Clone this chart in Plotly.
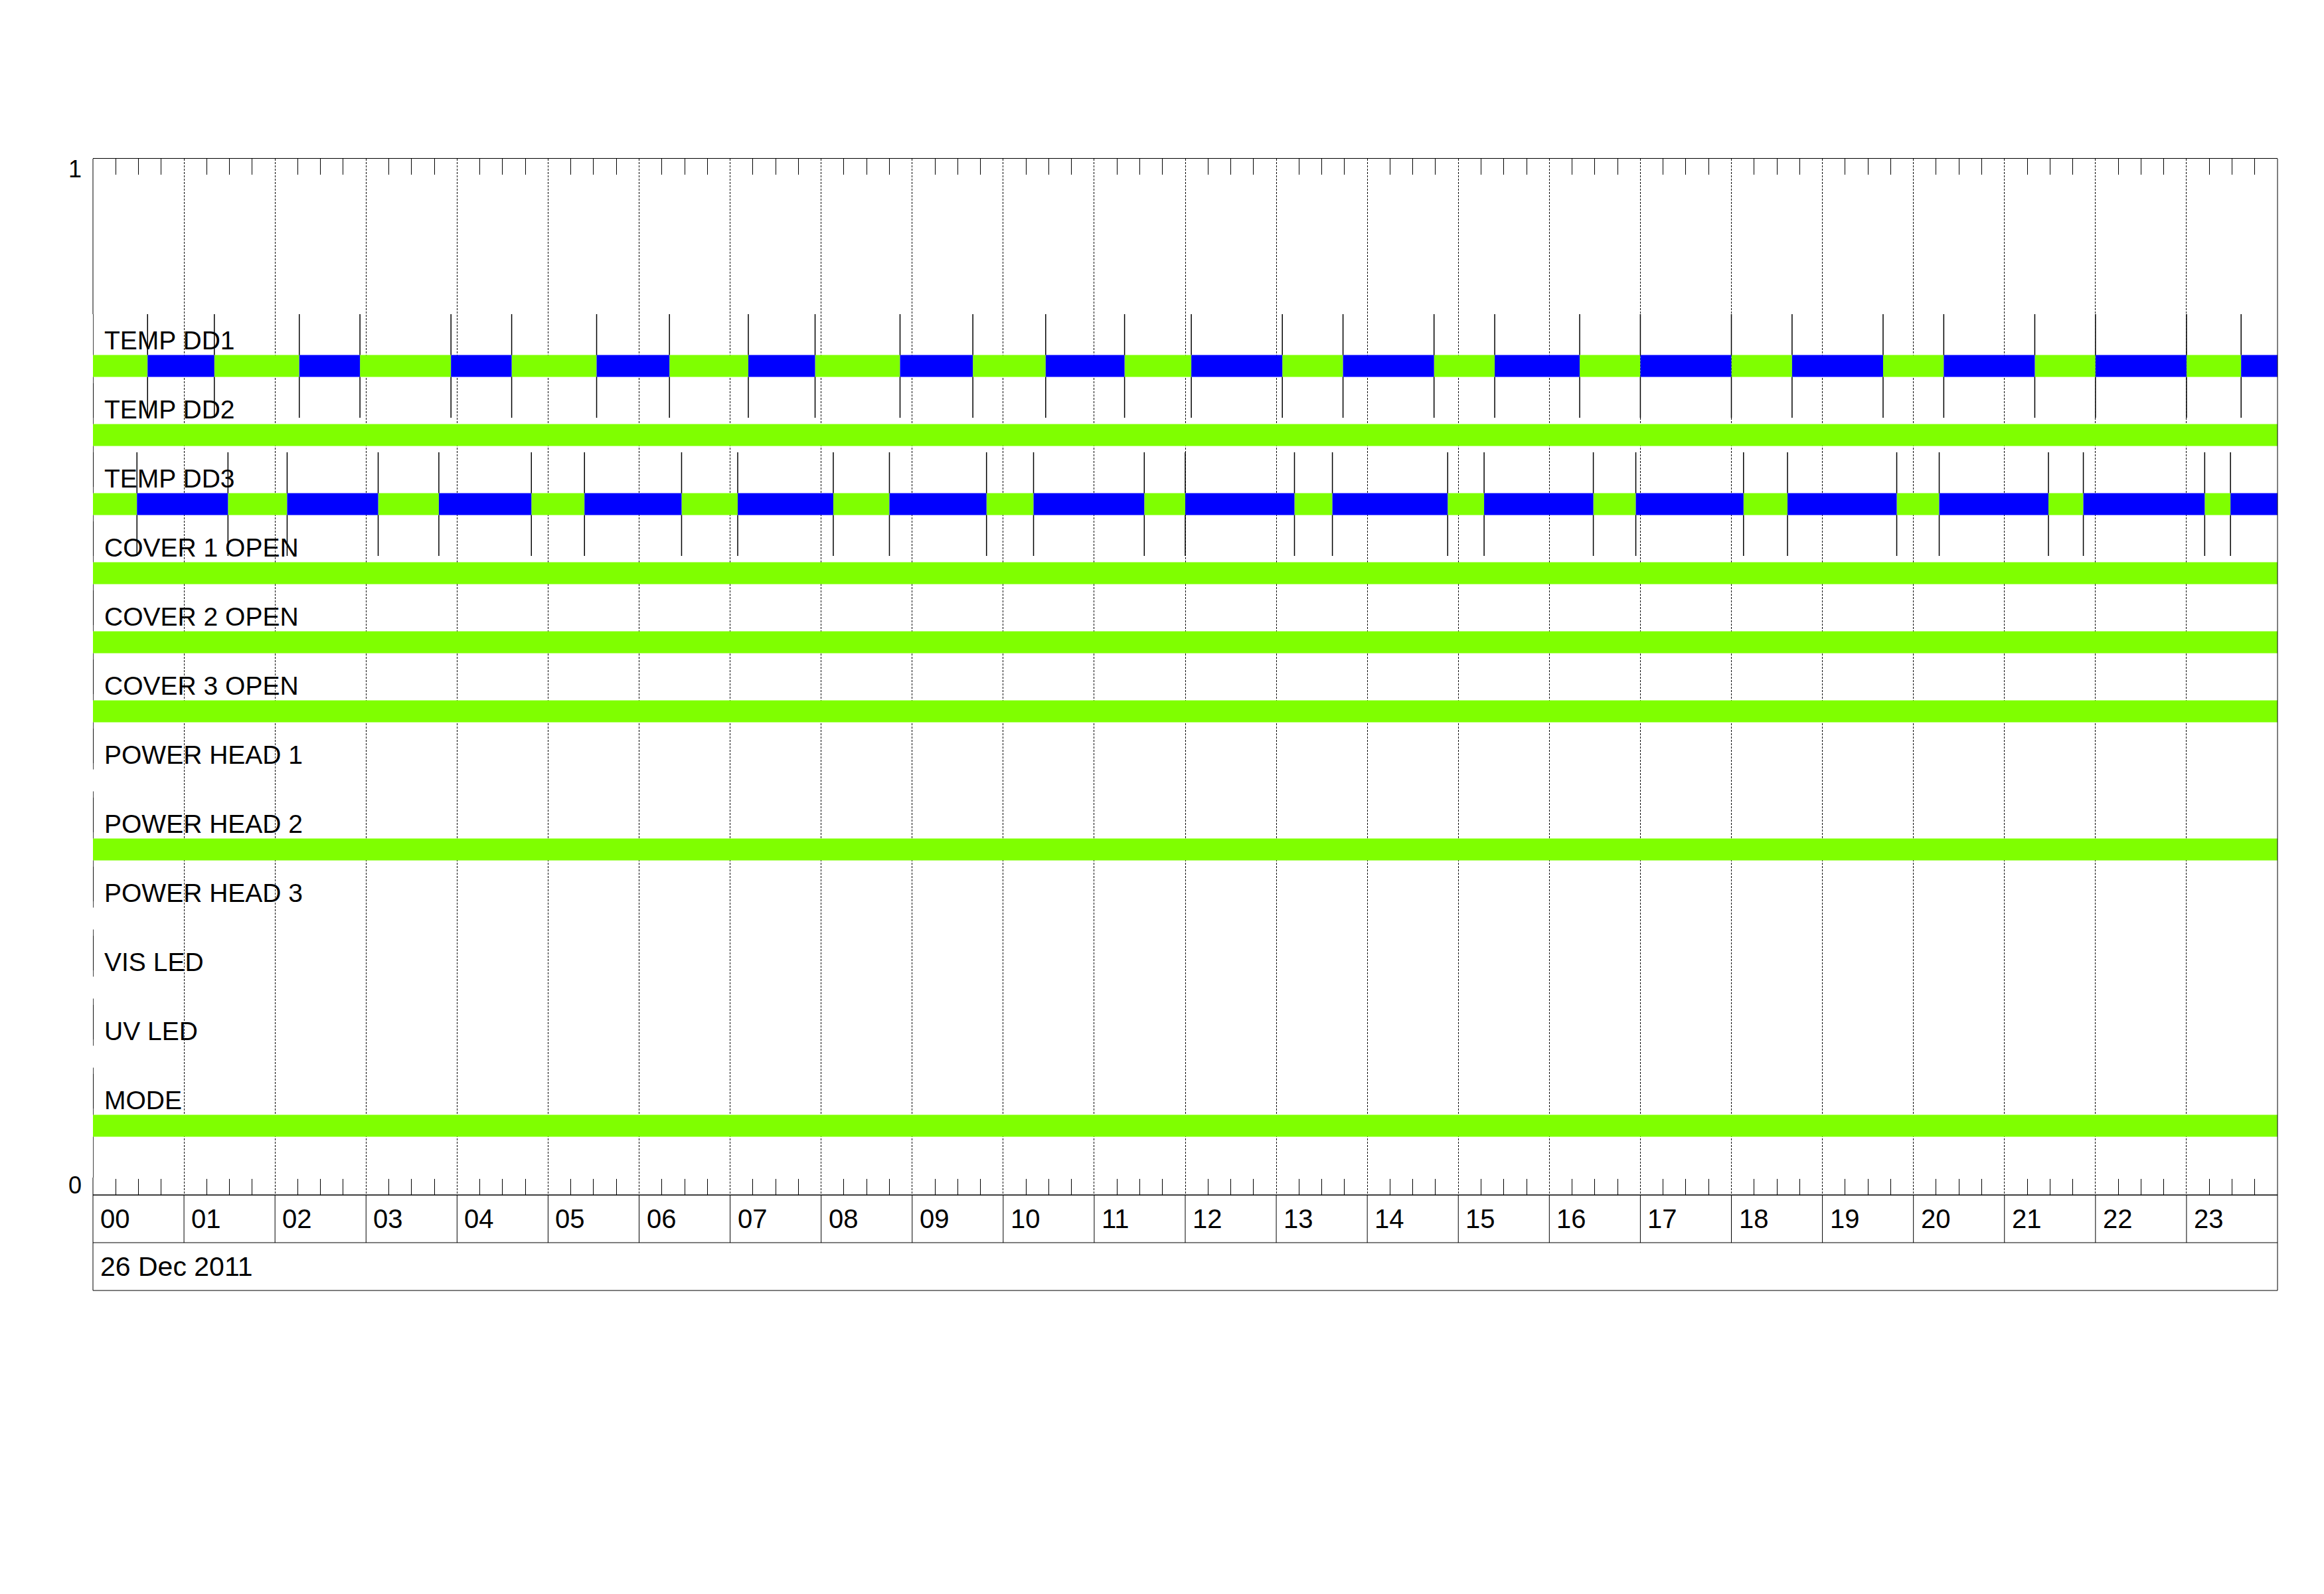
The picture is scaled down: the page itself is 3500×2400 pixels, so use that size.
import pandas as pd
import plotly.graph_objects as go

DAY = "2011-12-26"
DATE_LABEL = "26 Dec 2011"
HOUR_LABELS = [f"{h:02d}" for h in range(24)]

ROW_LABELS = [
    "TEMP DD1", "TEMP DD2", "TEMP DD3",
    "COVER 1 OPEN", "COVER 2 OPEN", "COVER 3 OPEN",
    "POWER HEAD 1", "POWER HEAD 2", "POWER HEAD 3",
    "VIS LED", "UV LED", "MODE",
]

# state change times (HH:MM) and the state that starts there
# G = green (on), B = blue, "" = no signal
TEMP_DD1_T = ["00:00", "00:36", "01:20", "02:16", "02:56", "03:56", "04:36", "05:32",
              "06:20", "07:12", "07:56", "08:52", "09:40", "10:28", "11:20", "12:04",
              "13:04", "13:44", "14:44", "15:24", "16:20", "17:00", "18:00", "18:40",
              "19:40", "20:20", "21:20", "22:00", "23:00", "23:36"]
TEMP_DD1_S = ["G", "B", "G", "B", "G", "B", "G", "B", "G", "B", "G", "B", "G", "B", "G",
              "B", "G", "B", "G", "B", "G", "B", "G", "B", "G", "B", "G", "B", "G", "B"]

TEMP_DD2_T = ["00:00"]
TEMP_DD2_S = ["G"]

TEMP_DD3_T = ["00:00", "00:29", "01:29", "02:08", "03:08", "03:48", "04:49", "05:24",
              "06:28", "07:05", "08:08", "08:45", "09:49", "10:20", "11:33", "12:00",
              "13:12", "13:37", "14:53", "15:17", "16:29", "16:57", "18:08", "18:37",
              "19:49", "20:17", "21:29", "21:52", "23:12", "23:29"]
TEMP_DD3_S = ["G", "B", "G", "B", "G", "B", "G", "B", "G", "B", "G", "B", "G", "B", "G",
              "B", "G", "B", "G", "B", "G", "B", "G", "B", "G", "B", "G", "B", "G", "B"]

COVER1_T, COVER1_S = ["00:00"], ["G"]
COVER2_T, COVER2_S = ["00:00"], ["G"]
COVER3_T, COVER3_S = ["00:00"], ["G"]
HEAD1_T, HEAD1_S = ["00:00"], [""]
HEAD2_T, HEAD2_S = ["00:00"], ["G"]
HEAD3_T, HEAD3_S = ["00:00"], [""]
VIS_T, VIS_S = ["00:00"], [""]
UV_T, UV_S = ["00:00"], [""]
MODE_T, MODE_S = ["00:00"], ["G"]

ROW_DATA = [
    (TEMP_DD1_T, TEMP_DD1_S), (TEMP_DD2_T, TEMP_DD2_S), (TEMP_DD3_T, TEMP_DD3_S),
    (COVER1_T, COVER1_S), (COVER2_T, COVER2_S), (COVER3_T, COVER3_S),
    (HEAD1_T, HEAD1_S), (HEAD2_T, HEAD2_S), (HEAD3_T, HEAD3_S),
    (VIS_T, VIS_S), (UV_T, UV_S), (MODE_T, MODE_S),
]

COLORS = {"G": "#7FFF00", "B": "#0000FF"}
FONT = "Liberation Sans, Arial, sans-serif"

TOP_ROW = 0.8
ROW_STEP = 1 / 15
BAR_W = 0.021
MARK_HALF = 0.05
LABEL_BOX = 72 / 1560

day_start = pd.Timestamp(DAY)
day_end = day_start + pd.Timedelta(days=1)


def ts(hhmm):
    return pd.Timestamp(f"{DAY} {hhmm}")


fig = go.Figure()

bars = {k: dict(y=[], base=[], x=[]) for k in COLORS}
mark_x, mark_y = [], []
annotations = []

for i, (label, (times, states)) in enumerate(zip(ROW_LABELS, ROW_DATA)):
    yc = TOP_ROW - i * ROW_STEP
    starts = [ts(t) for t in times]
    ends = starts[1:] + [day_end]
    for s, e, st in zip(starts, ends, states):
        if st in COLORS:
            bars[st]["y"].append(yc)
            bars[st]["base"].append(s)
            bars[st]["x"].append((e - s).total_seconds() * 1000)
    for s in starts:
        mark_x += [s, s, None, s, s, None]
        mark_y += [yc - MARK_HALF, yc - BAR_W / 2, None, yc + BAR_W / 2, yc + MARK_HALF, None]
    annotations.append(dict(
        x=0, xref="paper", y=yc + 0.025, yref="y", text=label, showarrow=False,
        xanchor="left", yanchor="middle", xshift=15,
        font=dict(size=39, color="black", family=FONT),
    ))

fig.add_trace(go.Scatter(
    x=mark_x, y=mark_y, mode="lines", line=dict(color="black", width=1.5),
    hoverinfo="skip", showlegend=False,
))

for key, d in bars.items():
    fig.add_trace(go.Bar(
        orientation="h", y=d["y"], base=d["base"], x=d["x"], width=BAR_W,
        marker=dict(color=COLORS[key], line=dict(width=0)),
        hoverinfo="skip", showlegend=False,
    ))

# hour boxes and date box under the axis
shapes = [
    dict(type="rect", xref="paper", yref="paper", x0=0, x1=1, y0=-2 * LABEL_BOX, y1=0,
         line=dict(color="black", width=1)),
    dict(type="line", xref="paper", yref="paper", x0=0, x1=1, y0=-LABEL_BOX, y1=-LABEL_BOX,
         line=dict(color="black", width=1)),
    dict(type="line", xref="paper", yref="paper", x0=1, x1=1, y0=0, y1=1,
         line=dict(color="black", width=1)),
    dict(type="line", xref="paper", yref="y", x0=0, x1=0, y0=TOP_ROW + MARK_HALF, y1=1,
         line=dict(color="black", width=1)),
    dict(type="line", xref="paper", yref="y", x0=0, x1=0, y0=0,
         y1=TOP_ROW - (len(ROW_LABELS) - 1) * ROW_STEP - MARK_HALF,
         line=dict(color="black", width=1)),
]
for h, lab in enumerate(HOUR_LABELS):
    hx = day_start + pd.Timedelta(hours=h)
    if h > 0:
        shapes.append(dict(type="line", xref="x", yref="paper", x0=hx, x1=hx,
                           y0=-LABEL_BOX, y1=0, line=dict(color="black", width=1)))
    annotations.append(dict(
        x=hx, xref="x", y=-LABEL_BOX / 2, yref="paper", text=lab, showarrow=False,
        xanchor="left", yanchor="middle", xshift=9,
        font=dict(size=40, color="black", family=FONT),
    ))

annotations.append(dict(
    x=0, xref="paper", y=-1.5 * LABEL_BOX, yref="paper", text=DATE_LABEL, showarrow=False,
    xanchor="left", yanchor="middle", xshift=9,
    font=dict(size=41, color="black", family=FONT),
))
annotations.append(dict(
    x=0, xref="paper", y=1, yref="y", text="1", showarrow=False,
    xanchor="center", yanchor="top", xshift=-27, yshift=7,
    font=dict(size=36, color="black", family=FONT),
))
annotations.append(dict(
    x=0, xref="paper", y=0, yref="y", text="0", showarrow=False,
    xanchor="center", yanchor="bottom", xshift=-27, yshift=-8,
    font=dict(size=36, color="black", family=FONT),
))

fig.update_layout(
    width=3500,
    height=2400,
    margin=dict(l=132, r=78, t=231, b=609),
    paper_bgcolor="white",
    plot_bgcolor="white",
    barmode="overlay",
    showlegend=False,
    shapes=shapes,
    annotations=annotations,
    font=dict(family=FONT, color="black"),
)

fig.update_xaxes(
    type="date",
    range=[day_start, day_end],
    tickmode="linear",
    tick0=day_start,
    dtick=3600000,
    showticklabels=False,
    ticks="",
    showgrid=True,
    gridcolor="black",
    gridwidth=1,
    griddash="3px,2px",
    showline=True,
    linecolor="black",
    linewidth=1,
    mirror="ticks",
    zeroline=False,
    minor=dict(dtick=900000, tick0=day_start, ticks="inside", ticklen=24,
               tickcolor="black", tickwidth=1, showgrid=False),
)

fig.update_yaxes(
    range=[0, 1],
    showgrid=False,
    zeroline=False,
    showline=False,
    showticklabels=False,
    ticks="",
)

fig.write_html("out.html")
